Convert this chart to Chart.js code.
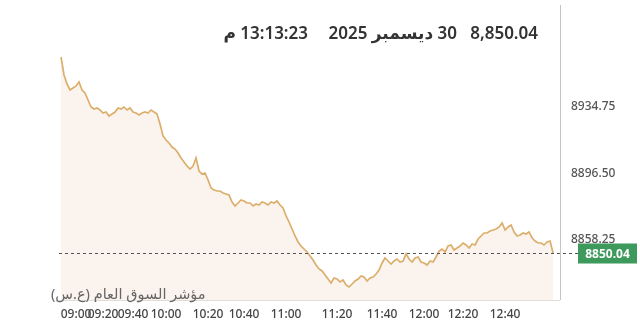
<!DOCTYPE html>
<html>
<head>
<meta charset="utf-8">
<script src="https://cdn.jsdelivr.net/npm/chart.js@4"></script>
<style>
  body { margin: 0; background: #fff; font-family: "Noto Sans", "DejaVu Sans", sans-serif; }
  #wrap { position: relative; width: 640px; height: 335px; }
  canvas { position: absolute; left: 0; top: 0; }
  .ttl { position: absolute; top: 22px; font-size: 17px; font-weight: 600; color: #333; white-space: nowrap; line-height: 22px; }
  #idxName { position: absolute; left: 51px; top: 283px; font-size: 14.5px; color: #666; direction: rtl; white-space: nowrap; }
</style>
</head>
<body>
<div id="wrap">
  <canvas id="chart" width="640" height="335"></canvas>
  <span class="ttl" style="right:102px">8,850.04</span>
  <span class="ttl" style="right:183px" dir="rtl">30 ديسمبر 2025</span>
  <span class="ttl" style="right:332px" dir="rtl">13:13:23 م</span>
  <span id="idxName">مؤشر السوق العام (ع.س)</span>
</div>
<script>
// ---- data ----
const prices = [
  8963.73, 8953.31, 8948.10, 8944.62, 8945.78, 8946.94, 8949.26, 8944.62, 8942.89, 8938.83,
  8934.78, 8933.62, 8934.20, 8933.04, 8931.30, 8931.88, 8929.57, 8930.72, 8931.88, 8934.20,
  8933.62, 8934.78, 8933.04, 8934.20, 8931.88, 8931.30, 8930.14, 8931.30, 8931.88, 8931.30,
  8933.04, 8931.88, 8930.72, 8924.93, 8917.98, 8915.67, 8913.93, 8911.61, 8910.45, 8908.14,
  8905.24, 8902.93, 8900.61, 8898.87, 8900.61, 8905.24, 8897.71, 8895.98, 8896.55, 8892.50,
  8887.87, 8886.71, 8886.13, 8886.13, 8884.97, 8884.39, 8883.81, 8879.76, 8877.44, 8879.18,
  8880.92, 8880.34, 8879.18, 8879.18, 8877.44, 8878.60, 8878.02, 8879.76, 8879.18, 8878.02,
  8879.76, 8879.18, 8880.34, 8878.02, 8876.29, 8871.65, 8868.18, 8864.12, 8860.07, 8856.59,
  8854.28, 8852.54, 8850.80, 8848.49, 8846.17, 8843.28, 8840.96, 8839.80, 8837.48, 8835.17,
  8832.85, 8835.75, 8835.17, 8833.43, 8834.59, 8831.69, 8830.53, 8832.27, 8834.01, 8835.17,
  8836.90, 8836.33, 8834.01, 8835.75, 8836.33, 8838.06, 8840.38, 8844.43, 8847.33, 8845.59,
  8843.85, 8845.59, 8846.75, 8845.01, 8845.59, 8849.65, 8846.75, 8845.01, 8847.33, 8847.91,
  8845.01, 8844.43, 8843.28, 8845.59, 8845.01, 8847.91, 8851.38, 8852.54, 8850.80, 8854.28,
  8854.86, 8851.96, 8853.12, 8854.28, 8856.02, 8854.86, 8853.12, 8855.44, 8854.86, 8858.33,
  8860.07, 8861.81, 8861.81, 8862.97, 8863.54, 8864.12, 8865.28, 8867.60, 8863.54, 8865.28,
  8866.44, 8862.39, 8860.07, 8860.65, 8861.81, 8861.23, 8862.39, 8858.91, 8857.17, 8856.02,
  8856.02, 8854.86, 8856.59, 8857.17, 8850.04
];
const lastPrice = 8850.04;
const yTicks = [8858.25, 8896.50, 8934.75];
const xTickIdx = [5, 14, 24, 35, 49, 61, 75, 92, 107, 121, 134, 148];
const xTickLabels = ["09:00", "09:20", "09:40", "10:00", "10:20", "10:40", "11:00", "11:20", "11:40", "12:00", "12:20", "12:40"];

const points = prices.map((v, i) => ({ x: i, y: v }));

// ---- extras: axis line, dashed last price line, badge ----
const extras = {
  id: "extras",
  afterDatasetsDraw(chart) {
    const { ctx, chartArea: a, scales } = chart;
    ctx.save();
    // bottom edge
    ctx.strokeStyle = "#e2ddd8";
    ctx.lineWidth = 1;
    ctx.beginPath();
    ctx.moveTo(a.left, a.bottom + 0.5);
    ctx.lineTo(a.right, a.bottom + 0.5);
    ctx.stroke();
    // right axis line
    ctx.strokeStyle = "#c4c4c4";
    ctx.beginPath();
    ctx.moveTo(a.right + 0.5, 5);
    ctx.lineTo(a.right + 0.5, a.bottom);
    ctx.stroke();
    // dashed last price
    const y = Math.round(scales.y.getPixelForValue(lastPrice)) + 0.5;
    ctx.strokeStyle = "#555";
    ctx.setLineDash([3, 3]);
    ctx.beginPath();
    ctx.moveTo(a.left, y);
    ctx.lineTo(578, y);
    ctx.stroke();
    ctx.setLineDash([]);
    // badge
    ctx.fillStyle = "#3d9a5c";
    ctx.fillRect(578, y - 10, 59, 20);
    ctx.fillStyle = "#fff";
    ctx.font = "bold 12px 'Noto Sans', sans-serif";
    ctx.textAlign = "center";
    ctx.textBaseline = "middle";
    ctx.fillText(lastPrice.toFixed(2), 607.5, y + 1);
    ctx.restore();
  }
};

new Chart(document.getElementById("chart"), {
  type: "line",
  data: {
    datasets: [{
      data: points,
      borderColor: "#dcae6c",
      borderWidth: 1.7,
      backgroundColor: "#fbf4ee",
      fill: "start",
      pointRadius: 0,
      tension: 0
    }]
  },
  options: {
    responsive: false,
    animation: false,
    layout: { padding: { left: 59, top: 41, right: 0, bottom: 0 } },
    plugins: { legend: { display: false }, tooltip: { enabled: false } },
    scales: {
      x: {
        type: "linear",
        min: -0.67,
        max: 166.3,
        grid: { display: false },
        border: { display: false },
        afterFit: (s) => { s.height = 35; },
        afterBuildTicks: (s) => { s.ticks = xTickIdx.map(v => ({ value: v })); },
        ticks: {
          autoSkip: false,
          maxRotation: 0,
          padding: -1,
          color: "#444",
          font: { family: "Noto Sans", size: 12, weight: 500 },
          callback: (v, i) => xTickLabels[i]
        }
      },
      y: {
        position: "right",
        min: 8823,
        max: 8973,
        grid: { display: false },
        border: { display: false },
        afterFit: (s) => { s.width = 80; },
        afterBuildTicks: (s) => { s.ticks = yTicks.map(v => ({ value: v })); },
        ticks: {
          padding: 3,
          color: "#555",
          font: { family: "Noto Sans", size: 12, weight: 500 },
          callback: (v) => v.toFixed(2)
        }
      }
    }
  },
  plugins: [extras]
});
</script>
</body>
</html>
